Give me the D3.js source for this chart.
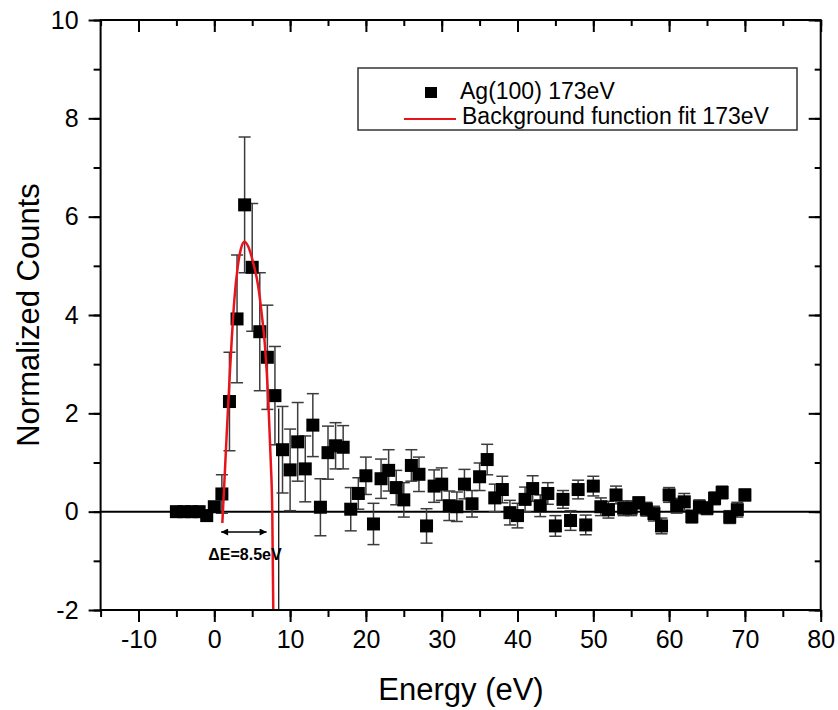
<!DOCTYPE html>
<html>
<head>
<meta charset="utf-8">
<script src="https://cdn.jsdelivr.net/npm/d3@7"></script>
<style>
    body { margin: 0; background: #fff; }
    text { font-family: Arial, "Liberation Sans", sans-serif; }
</style>
</head>
<body>
<div id="visualization"></div>
<script>
// measured data: Ag(100) 173eV
const energy = d3.range(-5, 71);
const counts = [
    0.0, 0.0, 0.0, 0.0, -0.08, 0.1, 0.36, 2.24, 3.92, 6.24,
    4.97, 3.66, 3.14, 2.36, 1.26, 0.85, 1.42, 0.87, 1.76, 0.09,
    1.2, 1.34, 1.31, 0.05, 0.37, 0.73, -0.25, 0.67, 0.84, 0.49,
    0.24, 0.94, 0.76, -0.29, 0.52, 0.56, 0.12, 0.1, 0.56, 0.16,
    0.71, 1.06, 0.28, 0.45, -0.02, -0.08, 0.25, 0.47, 0.12, 0.37,
    -0.29, 0.25, -0.18, 0.45, -0.27, 0.52, 0.1, 0.04, 0.34, 0.07,
    0.07, 0.18, 0.05, -0.04, -0.29, 0.34, 0.12, 0.2, -0.1, 0.1,
    0.07, 0.27, 0.39, -0.11, 0.04, 0.34
];
const errors = [
    0.02, 0.02, 0.02, 0.02, 0.05, 0.1, 0.39, 1.0, 1.3, 1.38,
    1.3, 1.2, 1.06, 1.0, 0.88, 0.83, 0.8, 0.67, 0.64, 0.58,
    0.54, 0.47, 0.44, 0.44, 0.32, 0.38, 0.42, 0.4, 0.42, 0.35,
    0.35, 0.32, 0.35, 0.35, 0.33, 0.33, 0.3, 0.3, 0.3, 0.27,
    0.28, 0.31, 0.28, 0.27, 0.25, 0.25, 0.25, 0.26, 0.22, 0.22,
    0.21, 0.18, 0.2, 0.19, 0.2, 0.2, 0.18, 0.17, 0.18, 0.15,
    0.15, 0.12, 0.14, 0.15, 0.16, 0.15, 0.15, 0.17, 0.13, 0.14,
    0.13, 0.13, 0.13, 0.13, 0.15, 0.12
];

// background function fit
const fitEnergy = [1.06, 1.32, 1.64, 1.98, 2.30, 2.64, 3.09, 3.52, 3.96, 4.49, 5.15, 5.80, 6.25, 6.69, 7.12, 7.44, 7.65, 7.78];
const fitCounts = [-0.23, 0.57, 1.59, 2.61, 3.5, 4.3, 4.98, 5.35, 5.49, 5.39, 5.05, 4.58, 4.03, 3.36, 2.27, 1.05, -0.03, -2.0];

const xTicks = [-10, 0, 10, 20, 30, 40, 50, 60, 70, 80];
const yTicks = [-2, 0, 2, 4, 6, 8, 10];
const deltaE = [0.9, 6.9];
const deltaELine = 8.5;

class SpectrumChart {
    constructor(containerId) {
        this.containerId = containerId;
        this.width = 838;
        this.height = 710;
        this.left = 100.6;
        this.right = 820.7;
        this.top = 20;
        this.bottom = 610;

        this.xScale = d3.scaleLinear().domain([-15, 80]).range([this.left, this.right]);
        this.yScale = d3.scaleLinear().domain([-2, 10]).range([this.bottom, this.top]);
    }

    initialize() {
        this.svg = d3.select(`#${this.containerId}`)
            .append('svg')
            .attr('width', this.width)
            .attr('height', this.height);

        this.svg.append('rect')
            .attr('width', this.width)
            .attr('height', this.height)
            .attr('fill', '#fff');

        this.svg.append('defs').append('clipPath')
            .attr('id', 'plot-clip')
            .append('rect')
            .attr('x', this.left)
            .attr('y', this.top)
            .attr('width', this.right - this.left)
            .attr('height', this.bottom - this.top);

        this.defineArrow();
        this.plotArea = this.svg.append('g').attr('clip-path', 'url(#plot-clip)');
    }

    defineArrow() {
        const defs = this.svg.select('defs');
        ['start', 'end'].forEach(kind => {
            defs.append('marker')
                .attr('id', `arrow-${kind}`)
                .attr('viewBox', '0 0 10 10')
                .attr('refX', kind === 'end' ? 10 : 0)
                .attr('refY', 5)
                .attr('markerWidth', 9)
                .attr('markerHeight', 7)
                .attr('markerUnits', 'userSpaceOnUse')
                .attr('orient', 'auto')
                .append('path')
                .attr('d', kind === 'end' ? 'M0,0 L10,5 L0,10 Z' : 'M10,0 L0,5 L10,10 Z')
                .attr('fill', '#000');
        });
    }

    render() {
        const x = this.xScale, y = this.yScale;
        const data = energy.map((e, i) => ({ e: e, c: counts[i], err: errors[i] }));

        // zero line
        this.plotArea.append('line')
            .attr('x1', this.left).attr('x2', this.right)
            .attr('y1', y(0)).attr('y2', y(0))
            .attr('stroke', '#000')
            .attr('stroke-width', 2);

        // delta E marker line
        this.plotArea.append('line')
            .attr('x1', x(deltaELine)).attr('x2', x(deltaELine))
            .attr('y1', y(-2)).attr('y2', y(2.1))
            .attr('stroke', '#000')
            .attr('stroke-width', 1.2);

        // error bars
        const bars = this.plotArea.append('g')
            .attr('stroke', '#3c3c3c')
            .attr('stroke-width', 1.5);

        bars.selectAll('line.bar')
            .data(data)
            .enter()
            .append('line')
            .attr('class', 'bar')
            .attr('x1', d => x(d.e)).attr('x2', d => x(d.e))
            .attr('y1', d => y(d.c - d.err)).attr('y2', d => y(d.c + d.err));

        ['lo', 'hi'].forEach(side => {
            bars.selectAll(`line.cap-${side}`)
                .data(data)
                .enter()
                .append('line')
                .attr('class', `cap-${side}`)
                .attr('x1', d => x(d.e) - 6).attr('x2', d => x(d.e) + 6)
                .attr('y1', d => y(side === 'lo' ? d.c - d.err : d.c + d.err))
                .attr('y2', d => y(side === 'lo' ? d.c - d.err : d.c + d.err));
        });

        // square markers
        this.plotArea.selectAll('rect.point')
            .data(data)
            .enter()
            .append('rect')
            .attr('class', 'point')
            .attr('x', d => x(d.e) - 6.5)
            .attr('y', d => y(d.c) - 6.5)
            .attr('width', 13)
            .attr('height', 13)
            .attr('fill', '#000');

        // fit curve
        const fit = fitEnergy.map((e, i) => [e, fitCounts[i]]);
        this.plotArea.append('path')
            .datum(fit)
            .attr('fill', 'none')
            .attr('stroke', '#e8141c')
            .attr('stroke-width', 2.5)
            .attr('d', d3.line()
                .x(d => x(d[0]))
                .y(d => y(d[1]))
                .curve(d3.curveMonotoneX));

        this.drawAxes();
        this.drawAnnotation();
        this.drawLegend();
    }

    drawAxes() {
        const x = this.xScale, y = this.yScale;
        const xMinor = d3.range(-15, 81, 5);
        const yMinor = d3.range(-2, 10.01, 1);
        const plain = d => String(d);

        this.svg.append('g')
            .attr('transform', `translate(0,${this.bottom})`)
            .call(d3.axisBottom(x).tickValues(xMinor).tickSize(7).tickFormat(''));
        this.svg.append('g')
            .attr('transform', `translate(0,${this.bottom})`)
            .call(d3.axisBottom(x).tickValues(xTicks).tickSize(12).tickPadding(8).tickFormat(plain));

        this.svg.append('g')
            .attr('transform', `translate(${this.left},0)`)
            .call(d3.axisLeft(y).tickValues(yMinor).tickSize(7).tickFormat(''));
        this.svg.append('g')
            .attr('transform', `translate(${this.left},0)`)
            .call(d3.axisLeft(y).tickValues(yTicks).tickSize(12).tickPadding(10).tickFormat(plain));

        // mirrored inward ticks on top and right
        this.svg.append('g')
            .attr('transform', `translate(0,${this.top})`)
            .call(d3.axisBottom(x).tickValues(xMinor).tickSize(6).tickFormat(''));
        this.svg.append('g')
            .attr('transform', `translate(0,${this.top})`)
            .call(d3.axisBottom(x).tickValues(xTicks).tickSize(12).tickFormat(''));
        this.svg.append('g')
            .attr('transform', `translate(${this.right},0)`)
            .call(d3.axisLeft(y).tickValues(yMinor).tickSize(6).tickFormat(''));
        this.svg.append('g')
            .attr('transform', `translate(${this.right},0)`)
            .call(d3.axisLeft(y).tickValues(yTicks).tickSize(12).tickFormat(''));

        this.svg.selectAll('.domain').remove();
        this.svg.selectAll('.tick line').attr('stroke', '#000').attr('stroke-width', 2);
        this.svg.selectAll('.tick text')
            .attr('fill', '#000')
            .style('font-size', '25px')
            .style('font-family', 'Arial, "Liberation Sans", sans-serif');

        // frame
        this.svg.append('rect')
            .attr('x', this.left).attr('y', this.top)
            .attr('width', this.right - this.left)
            .attr('height', this.bottom - this.top)
            .attr('fill', 'none')
            .attr('stroke', '#000')
            .attr('stroke-width', 2);

        this.svg.append('text')
            .attr('x', 461).attr('y', 700)
            .attr('text-anchor', 'middle')
            .style('font-size', '31px')
            .text('Energy (eV)');

        this.svg.append('text')
            .attr('transform', 'translate(39,315) rotate(-90)')
            .attr('text-anchor', 'middle')
            .style('font-size', '31px')
            .text('Normalized Counts');
    }

    drawAnnotation() {
        const x = this.xScale;
        this.svg.append('line')
            .attr('x1', x(deltaE[0])).attr('x2', x(deltaE[1]))
            .attr('y1', 532).attr('y2', 532)
            .attr('stroke', '#000')
            .attr('stroke-width', 1.5)
            .attr('marker-start', 'url(#arrow-start)')
            .attr('marker-end', 'url(#arrow-end)');

        this.svg.append('text')
            .attr('x', 245).attr('y', 560)
            .attr('text-anchor', 'middle')
            .style('font-size', '16px')
            .style('font-weight', 'bold')
            .text('\u0394E=8.5eV');
    }

    drawLegend() {
        const g = this.svg.append('g');
        g.append('rect')
            .attr('x', 358).attr('y', 68)
            .attr('width', 439).attr('height', 62)
            .attr('fill', '#fff')
            .attr('stroke', '#333')
            .attr('stroke-width', 1.5);

        g.append('rect')
            .attr('x', 425).attr('y', 87)
            .attr('width', 12).attr('height', 11)
            .attr('fill', '#000');
        g.append('text')
            .attr('x', 460).attr('y', 99)
            .style('font-size', '23px')
            .text('Ag(100) 173eV');

        g.append('line')
            .attr('x1', 404).attr('x2', 456)
            .attr('y1', 119).attr('y2', 119)
            .attr('stroke', '#e8141c')
            .attr('stroke-width', 2);
        g.append('text')
            .attr('x', 462).attr('y', 124)
            .style('font-size', '23px')
            .text('Background function fit 173eV');
    }
}

document.addEventListener('DOMContentLoaded', () => {
    const vis = new SpectrumChart('visualization');
    vis.initialize();
    vis.render();
});
</script>
</body>
</html>
